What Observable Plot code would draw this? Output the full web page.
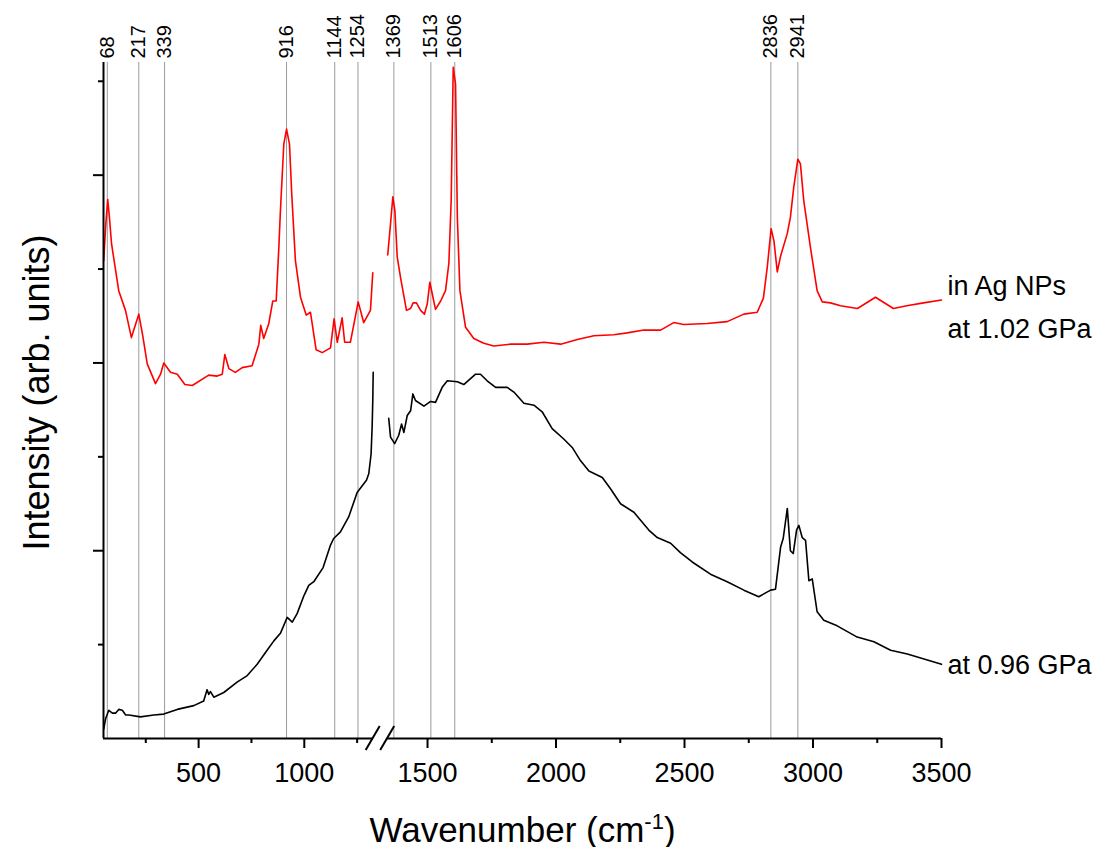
<!DOCTYPE html>
<html>
<head>
<meta charset="utf-8">
<script src="https://cdn.jsdelivr.net/npm/d3@7"></script>
<script src="https://cdn.jsdelivr.net/npm/@observablehq/plot@0.6"></script>
<style>
  html, body { margin: 0; padding: 0; background: #fff; }
  #chart svg { display: block; }
</style>
</head>
<body>
<div id="chart"></div>
<script>
// ---- data (wavenumber cm^-1, intensity arb. units) ----
// red: in Ag NPs at 1.02 GPa, low-wavenumber segment (before axis break)
const redLow = [
  [51,5.09],[60,5.45],[70,5.74],[78,5.55],[88,5.27],[122,4.77],[154,4.56],[182,4.27],[200,4.40],[217,4.52],
  [235,4.30],[257,3.99],[296,3.78],[320,3.88],[335,4.00],[367,3.90],[399,3.88],[435,3.77],[470,3.76],
  [548,3.87],[588,3.86],[612,3.88],[624,4.09],[643,3.94],[674,3.90],[706,3.95],[753,3.97],[785,4.20],
  [794,4.40],[808,4.26],[832,4.42],[851,4.66],[867,4.66],[880,5.25],[887,5.62],[903,6.33],[916,6.49],
  [930,6.33],[941,5.78],[958,5.09],[982,4.70],[1009,4.51],[1029,4.54],[1056,4.14],[1085,4.11],[1124,4.16],
  [1141,4.47],[1156,4.22],[1179,4.48],[1191,4.22],[1218,4.22],[1255,4.65],[1281,4.43],[1313,4.56],[1324,4.96]
];
// red: high-wavenumber segment (after axis break)
const redHigh = [
  [1345,5.15],[1356,5.48],[1365,5.77],[1373,5.62],[1382,5.13],[1395,4.91],[1418,4.56],[1434,4.58],
  [1444,4.64],[1457,4.64],[1473,4.56],[1488,4.52],[1499,4.63],[1509,4.86],[1518,4.74],[1531,4.57],
  [1551,4.66],[1570,4.77],[1583,5.06],[1592,5.73],[1600,7.15],[1609,6.97],[1616,5.55],[1626,4.77],
  [1648,4.38],[1680,4.26],[1719,4.21],[1758,4.18],[1823,4.20],[1888,4.20],[1953,4.22],[2018,4.20],
  [2083,4.25],[2147,4.29],[2225,4.30],[2277,4.32],[2342,4.35],[2407,4.35],[2458,4.43],[2497,4.41],
  [2588,4.42],[2666,4.44],[2731,4.52],[2783,4.54],[2807,4.69],[2822,5.02],[2837,5.43],[2848,5.30],
  [2861,4.97],[2874,5.14],[2900,5.38],[2912,5.55],[2925,5.87],[2941,6.17],[2951,6.12],[2964,5.73],
  [2990,5.23],[3016,4.77],[3036,4.65],[3068,4.64],[3107,4.61],[3173,4.58],[3243,4.70],[3313,4.58],
  [3365,4.61],[3430,4.64],[3500,4.67]
];
// black: at 0.96 GPa, low-wavenumber segment
const blackLow = [
  [51,0.10],[60,0.21],[75,0.30],[92,0.27],[107,0.27],[122,0.31],[139,0.30],[155,0.25],[170,0.25],
  [225,0.23],[288,0.25],[335,0.26],[399,0.31],[477,0.35],[524,0.40],[540,0.52],[548,0.47],[556,0.50],
  [572,0.44],[619,0.49],[682,0.60],[730,0.67],[777,0.79],[824,0.94],[856,1.04],[887,1.12],[919,1.29],
  [943,1.24],[966,1.33],[998,1.52],[1021,1.63],[1045,1.67],[1089,1.82],[1124,2.06],[1139,2.13],
  [1171,2.20],[1210,2.36],[1250,2.62],[1294,2.75],[1305,2.82],[1316,3.03],[1321,3.32],[1324,3.60],[1326,3.90]
];
// black: high-wavenumber segment
const blackHigh = [
  [1349,3.41],[1356,3.21],[1372,3.14],[1388,3.23],[1399,3.35],[1408,3.26],[1421,3.44],[1434,3.49],
  [1443,3.67],[1453,3.60],[1486,3.54],[1512,3.59],[1531,3.58],[1557,3.74],[1577,3.81],[1616,3.80],
  [1641,3.77],[1687,3.88],[1706,3.88],[1732,3.81],[1765,3.74],[1810,3.74],[1836,3.69],[1875,3.57],
  [1914,3.55],[1946,3.48],[1985,3.30],[2030,3.19],[2063,3.10],[2095,2.96],[2128,2.85],[2180,2.78],
  [2212,2.66],[2251,2.50],[2303,2.41],[2361,2.22],[2394,2.14],[2446,2.08],[2484,1.98],[2530,1.88],
  [2601,1.75],[2666,1.67],[2731,1.58],[2789,1.51],[2835,1.58],[2854,1.59],[2874,2.04],[2884,2.13],
  [2900,2.45],[2912,2.00],[2923,1.97],[2936,2.22],[2945,2.27],[2958,2.14],[2971,2.11],[2984,1.68],
  [2997,1.70],[3016,1.35],[3042,1.26],[3094,1.20],[3172,1.08],[3237,1.03],[3302,0.94],[3367,0.90],[3500,0.79]
];
const peakPositions = [68, 217, 339, 916, 1144, 1254, 1369, 1513, 1606, 2836, 2941];
const xMajorTicks = [500, 1000, 1500, 2000, 2500, 3000, 3500];
const xMinorTicks = [250, 750, 1250, 1750, 2250, 2750, 3250];
const yMajorTicks = [2, 4, 6];
const yMinorTicks = [1, 3, 5, 7];
const axisBreaks = [1326, 1345];
const redLabel = "in Ag NPs\nat 1.02 GPa";
const blackLabel = "at 0.96 GPa";
const xTitle = "Wavenumber (cm-1)";
const yTitle = "Intensity (arb. units)";

// ---- break marks drawn through the x/y scales ----
function breakMarks(index, scales) {
  const g = d3.create("svg:g").attr("stroke", "black").attr("stroke-width", 2);
  const py = scales.y(0);
  for (const b of axisBreaks) {
    const px = scales.x(b);
    g.append("line").attr("x1", px - 7).attr("y1", py + 12).attr("x2", px + 7).attr("y2", py - 12);
  }
  return g.node();
}

const chart = Plot.plot({
  width: 1101,
  height: 847,
  marginLeft: 103,
  marginRight: 160,
  marginTop: 62,
  marginBottom: 109,
  style: {fontFamily: "'Liberation Sans', Arial, sans-serif", background: "#fff", color: "black"},
  x: {type: "linear", domain: [50, 1326, 1345, 3500], range: [103, 372.7, 387.2, 941]},
  y: {domain: [0, 7.2]},
  marks: [
    // peak reference lines
    Plot.ruleX(peakPositions, {x: d => d, y1: 0, y2: 7.2, stroke: "#9a9a9a", strokeWidth: 1}),
    Plot.text(peakPositions, {x: d => d, text: d => String(d), frameAnchor: "top", rotate: -90,
      textAnchor: "start", lineAnchor: "middle", dy: -4, fontSize: 20, fill: "black"}),
    // spectra
    Plot.line(blackLow, {x: d => d[0], y: d => d[1], stroke: "black", strokeWidth: 1.6}),
    Plot.line(blackHigh, {x: d => d[0], y: d => d[1], stroke: "black", strokeWidth: 1.6}),
    Plot.line(redLow, {x: d => d[0], y: d => d[1], stroke: "#ff0000", strokeWidth: 1.6}),
    Plot.line(redHigh, {x: d => d[0], y: d => d[1], stroke: "#ff0000", strokeWidth: 1.6}),
    // series labels
    Plot.text([redHigh[redHigh.length - 1]], {x: d => d[0], y: d => d[1], text: () => redLabel,
      textAnchor: "start", lineAnchor: "middle", lineHeight: 1.6, dx: 6, dy: 3, fontSize: 27, fill: "black"}),
    Plot.text([blackHigh[blackHigh.length - 1]], {x: d => d[0], y: d => d[1], text: () => blackLabel,
      textAnchor: "start", lineAnchor: "middle", dx: 6, dy: 1, fontSize: 27, fill: "black"}),
    // axes
    Plot.ruleY([[50, 1326], [1345, 3500]], {x1: d => d[0], x2: d => d[1], y: 0, stroke: "black", strokeWidth: 2}),
    Plot.ruleX([50], {x: d => d, y1: 0, y2: 7.2, stroke: "black", strokeWidth: 2}),
    Plot.axisX(xMajorTicks, {tickSize: 10, tickPadding: 14, tickFormat: d => String(d), fontSize: 27,
      strokeWidth: 2, label: null, color: "black"}),
    Plot.axisX(xMinorTicks, {tickSize: 5, tickFormat: () => "", strokeWidth: 2, label: null}),
    Plot.axisY(yMajorTicks, {tickSize: 10, tickFormat: () => "", strokeWidth: 2, label: null}),
    Plot.axisY(yMinorTicks, {tickSize: 5, tickFormat: () => "", strokeWidth: 2, label: null}),
    breakMarks,
    // axis titles
    Plot.text([xTitle], {text: d => d, frameAnchor: "bottom", textAnchor: "middle", lineAnchor: "bottom",
      dy: 103, fontSize: 35, fill: "black"}),
    Plot.text([yTitle], {text: d => d, frameAnchor: "left", rotate: -90, textAnchor: "middle", lineAnchor: "middle",
      dx: -66, dy: -8, fontSize: 36, fill: "black"})
  ]
});

document.getElementById("chart").appendChild(chart);

// render "cm-1" with a real superscript
d3.select(chart).selectAll("text").each(function () {
  if (this.textContent === xTitle) {
    const t = d3.select(this);
    t.text(null);
    t.append("tspan").text("Wavenumber (cm");
    t.append("tspan").attr("dy", "-13").attr("font-size", "22").text("-1");
    t.append("tspan").attr("dy", "13").text(")");
  }
});
</script>
</body>
</html>
